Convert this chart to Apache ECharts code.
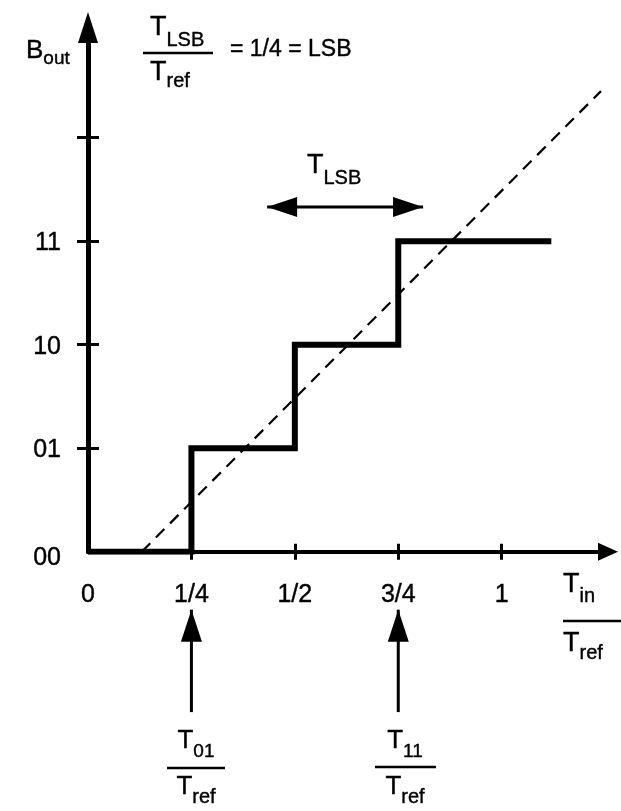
<!DOCTYPE html>
<html>
<head>
<meta charset="utf-8">
<script src="https://cdn.jsdelivr.net/npm/echarts@6/dist/echarts.min.js"></script>
<style>html,body{margin:0;padding:0;background:#fff;}#c{width:621px;height:811px;}</style>
</head>
<body>
<div id="c"></div>
<script>
// ---- data ----
const xTickValues = [0.25, 0.5, 0.75, 1];
const xLabelValues = [0, 0.25, 0.5, 0.75, 1];
const xTickLabels = ['0', '1/4', '1/2', '3/4', '1'];
const yTickValues = [1, 2, 3, 4];
const yLabelValues = [0, 1, 2, 3];
const yTickLabels = ['00', '01', '10', '11'];
// quantizer output: input value (Tin/Tref) where each code starts, code level
const stepX = [0, 0.25, 0.5, 0.75, 1.12];
const stepY = [0, 1, 2, 3, 3];
// ideal (unquantized) transfer line
const idealX = [0.13, 1.24];
const idealY = [0, 4.45];
// TLSB double arrow
const lsbArrowX = [0.433, 0.81];
const lsbArrowY = [3.33, 3.33];
// bottom arrows pointing at T01 and T11
const t01ArrowX = [0.25, 0.25];
const t11ArrowX = [0.75, 0.75];
const bottomArrowY = [-0.56, -1.55];

const FONT = '"Liberation Sans", Arial, Helvetica, sans-serif';
const ctx = document.createElement('canvas').getContext('2d');
function tw(t, s) { ctx.font = s + 'px ' + FONT; return ctx.measureText(t).width; }
function txt(t, x, y, s, align) {
  return { type: 'text', x: x, y: y, z: 10,
    style: { text: t, font: s + 'px ' + FONT, fill: '#000', stroke: '#000', lineWidth: 0.4,
      align: align || 'left', verticalAlign: 'middle',
      textAlign: align || 'left', textVerticalAlign: 'middle' } };
}
function subTxt(m, s, pos, y, sy, ms, ss, anchor) {
  const w1 = tw(m, ms), w2 = tw(s, ss);
  const left = anchor === 'left' ? pos : pos - (w1 + w2) / 2;
  return [txt(m, left, y, ms), txt(s, left + w1, sy, ss)];
}
function hline(x1, x2, y) {
  return { type: 'line', z: 10, shape: { x1: x1, y1: y, x2: x2, y2: y }, style: { stroke: '#000', lineWidth: 2.5 } };
}

const graphics = [].concat(
  subTxt('B', 'out', 26, 51, 59, 26, 19, 'left'),
  subTxt('T', 'LSB', 150, 28, 40, 27, 20, 'left'),
  [hline(143, 213, 53)],
  subTxt('T', 'ref', 150, 73, 81, 27, 20, 'left'),
  [txt('= 1/4 = LSB', 230, 50, 23)],
  subTxt('T', 'LSB', 307, 166, 178, 27, 20, 'left'),
  subTxt('T', 'in', 563, 585, 596, 27, 20, 'left'),
  [hline(563, 621, 621)],
  subTxt('T', 'ref', 563, 644, 653, 27, 20, 'left'),
  subTxt('T', '01', 196, 741, 752, 26, 19),
  [hline(167, 225, 768)],
  subTxt('T', 'ref', 196, 787, 797, 26, 20),
  subTxt('T', '11', 405, 741, 752, 26, 19),
  [hline(375, 436, 767)],
  subTxt('T', 'ref', 405, 787, 797, 26, 20)
);

const XMAX = 1.257, YMAX = 5.065;
const labelStyle = { color: '#000', fontSize: 25, fontFamily: FONT, textBorderColor: '#000', textBorderWidth: 0.4 };

const option = {
  backgroundColor: '#fff',
  animation: false,
  grid: { left: 88, right: 13, top: 27.5, bottom: 259.3, containLabel: false, outerBoundsMode: 'none' },
  xAxis: [
    { type: 'value', min: 0, max: XMAX, position: 'bottom', splitLine: { show: false },
      axisLine: { show: true, onZero: false, symbol: ['none', 'triangle'], symbolSize: [18, 20],
        lineStyle: { color: '#000', width: 4 } },
      axisTick: { show: true, inside: false, length: 8, customValues: xTickValues, lineStyle: { color: '#000', width: 3 } },
      axisLabel: Object.assign({ show: true, margin: 31, customValues: xLabelValues,
        formatter: function (v) { const i = xLabelValues.indexOf(v); return i >= 0 ? xTickLabels[i] : ''; } }, labelStyle) },
    { type: 'value', min: 0, max: XMAX, position: 'bottom', splitLine: { show: false },
      axisLine: { show: false, onZero: false },
      axisTick: { show: true, inside: true, length: 8, customValues: xTickValues, lineStyle: { color: '#000', width: 3 } },
      axisLabel: { show: false } }
  ],
  yAxis: [
    { type: 'value', min: 0, max: YMAX, position: 'left', splitLine: { show: false },
      axisLine: { show: true, onZero: false, symbol: ['none', 'triangle'], symbolSize: [20, 31],
        lineStyle: { color: '#000', width: 5 } },
      axisTick: { show: true, inside: false, length: 11, customValues: yTickValues, lineStyle: { color: '#000', width: 3 } },
      axisLabel: Object.assign({ show: true, margin: 27, customValues: yLabelValues,
        formatter: function (v) { const i = yLabelValues.indexOf(v); return i === 0 ? '{low|' + yTickLabels[0] + '}' : (i > 0 ? '{n|' + yTickLabels[i] + '}' : ''); },
        rich: {
          low: { fontSize: 25, fontFamily: FONT, color: '#000', textBorderColor: '#000', textBorderWidth: 0.4, padding: [12, 0, 0, 0] },
          n: { fontSize: 25, fontFamily: FONT, color: '#000', textBorderColor: '#000', textBorderWidth: 0.4, padding: [4, 0, 0, 0] }
        } }, labelStyle) },
    { type: 'value', min: 0, max: YMAX, position: 'left', splitLine: { show: false },
      axisLine: { show: false, onZero: false },
      axisTick: { show: true, inside: true, length: 11, customValues: yTickValues, lineStyle: { color: '#000', width: 3 } },
      axisLabel: { show: false } }
  ],
  series: [
    { type: 'line', name: 'ideal', xAxisIndex: 0, yAxisIndex: 0, showSymbol: false, symbol: 'none', z: 3,
      data: idealX.map((x, i) => [x, idealY[i]]),
      lineStyle: { color: '#000', width: 2.2, type: [12, 8] } },
    { type: 'line', name: 'Bout', xAxisIndex: 0, yAxisIndex: 0, step: 'end', showSymbol: false, symbol: 'none', z: 4,
      data: stepX.map((x, i) => [x, stepY[i]]),
      lineStyle: { color: '#000', width: 6, join: 'miter', cap: 'butt' } },
    { type: 'line', name: 'TLSB', xAxisIndex: 0, yAxisIndex: 0, clip: false, z: 4,
      data: [
        { value: [lsbArrowX[0], lsbArrowY[0]], symbol: 'triangle', symbolSize: [20, 30], symbolRotate: 90, symbolOffset: [15, 0] },
        { value: [lsbArrowX[1], lsbArrowY[1]], symbol: 'triangle', symbolSize: [20, 30], symbolRotate: -90, symbolOffset: [-15, 0] }
      ],
      itemStyle: { color: '#000' }, lineStyle: { color: '#000', width: 3 } },
    { type: 'line', name: 'T01', xAxisIndex: 0, yAxisIndex: 0, clip: false, z: 4,
      data: [
        { value: [t01ArrowX[0], bottomArrowY[0]], symbol: 'triangle', symbolSize: [21, 32], symbolOffset: [0, 16] },
        { value: [t01ArrowX[1], bottomArrowY[1]], symbol: 'none' }
      ],
      itemStyle: { color: '#000' }, lineStyle: { color: '#000', width: 3 } },
    { type: 'line', name: 'T11', xAxisIndex: 0, yAxisIndex: 0, clip: false, z: 4,
      data: [
        { value: [t11ArrowX[0], bottomArrowY[0]], symbol: 'triangle', symbolSize: [21, 32], symbolOffset: [0, 16] },
        { value: [t11ArrowX[1], bottomArrowY[1]], symbol: 'none' }
      ],
      itemStyle: { color: '#000' }, lineStyle: { color: '#000', width: 3 } }
  ],
  graphic: { elements: graphics }
};

const chart = echarts.init(document.getElementById('c'), null, { renderer: 'canvas' });
chart.setOption(option);
</script>
</body>
</html>
